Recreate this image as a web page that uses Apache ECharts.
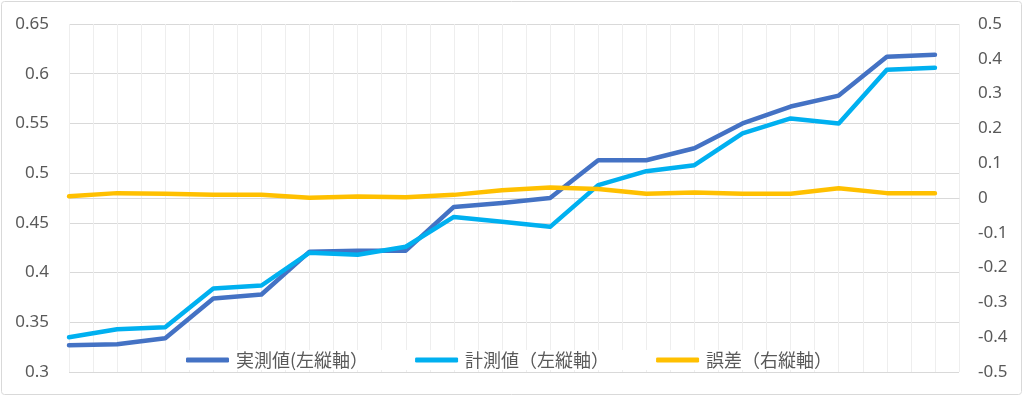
<!DOCTYPE html>
<html>
<head>
<meta charset="utf-8">
<script src="https://cdn.jsdelivr.net/npm/echarts@6/dist/echarts.min.js"></script>
<style>
  html, body { margin: 0; padding: 0; background: #fff; }
  #chart { width: 1024px; height: 397px; }
</style>
</head>
<body>
<div id="chart"></div>
<script>
// x positions of the points on the 0..37 grid
const pointX = [0, 2, 4, 6, 8, 10, 12, 14, 16, 18, 20, 22, 24, 26, 28, 30, 32, 34, 36]
// 実測値 (left axis)
const actual = [0.327, 0.328, 0.334, 0.374, 0.378, 0.421, 0.422, 0.422, 0.466, 0.470, 0.475,
  0.513, 0.513, 0.525, 0.550, 0.567, 0.578, 0.617, 0.619]
// 計測値 (left axis)
const measured = [0.335, 0.343, 0.345, 0.384, 0.387, 0.420, 0.418, 0.426, 0.456, 0.451, 0.446,
  0.488, 0.502, 0.508, 0.540, 0.555, 0.550, 0.604, 0.606]
// 誤差 (right axis)
const errors = [0.005, 0.014, 0.012, 0.009, 0.009, 0.001, 0.004, 0.002, 0.009, 0.022, 0.030,
  0.026, 0.012, 0.016, 0.012, 0.012, 0.028, 0.014, 0.014]

const seriesNames = ['実測値(左縦軸）', '計測値（左縦軸）', '誤差（右縦軸）']
const colors = ['#4472C4', '#00B0F0', '#FFC000']

const labelFont = 'Noto Sans'
const cjkFont = 'Noto Sans CJK JP'

function pairs (values) {
  return pointX.map((x, i) => [x, values[i]])
}

const chart = echarts.init(document.getElementById('chart'))

chart.setOption({
  animation: false,
  color: colors,
  graphic: [
    {
      type: 'rect',
      shape: { x: 1.5, y: 1.5, width: 1020, height: 393, r: 3 },
      style: { fill: 'none', stroke: '#d9d9d9', lineWidth: 1 },
      silent: true
    }
  ],
  grid: {
    left: 69,
    right: 65,
    top: 24,
    bottom: 25
  },
  legend: {
    data: seriesNames,
    left: 180,
    top: 350,
    backgroundColor: '#fff',
    padding: [1, 6, 1, 6],
    icon: 'roundRect',
    itemWidth: 43,
    itemHeight: 5,
    itemGap: 47,
    textStyle: {
      fontFamily: cjkFont,
      fontSize: 18,
      color: '#595959',
      padding: [0, 0, 0, 2]
    }
  },
  xAxis: {
    type: 'value',
    min: 0,
    max: 37,
    interval: 1,
    axisLabel: { show: false },
    axisTick: { show: false },
    axisLine: { show: true, lineStyle: { color: '#d9d9d9', width: 1 } },
    splitLine: { show: true, lineStyle: { color: '#eeeeee', width: 1 } }
  },
  yAxis: [
    {
      type: 'value',
      position: 'left',
      min: 0.3,
      max: 0.65,
      interval: 0.05,
      axisLine: { show: false },
      axisTick: { show: false },
      axisLabel: {
        margin: 20,
        fontFamily: labelFont,
        fontSize: 17,
        color: '#595959'
      },
      splitLine: { show: true, lineStyle: { color: '#d9d9d9', width: 1 } }
    },
    {
      type: 'value',
      position: 'right',
      min: -0.5,
      max: 0.5,
      interval: 0.1,
      axisLine: { show: false },
      axisTick: { show: false },
      axisLabel: {
        margin: 19,
        fontFamily: labelFont,
        fontSize: 17,
        color: '#595959'
      },
      splitLine: { show: false }
    }
  ],
  series: [
    {
      name: seriesNames[0],
      type: 'line',
      yAxisIndex: 0,
      data: pairs(actual),
      symbol: 'none',
      lineStyle: { width: 4.5, color: colors[0], cap: 'round', join: 'round' }
    },
    {
      name: seriesNames[1],
      type: 'line',
      yAxisIndex: 0,
      data: pairs(measured),
      symbol: 'none',
      lineStyle: { width: 4.5, color: colors[1], cap: 'round', join: 'round' }
    },
    {
      name: seriesNames[2],
      type: 'line',
      yAxisIndex: 1,
      data: pairs(errors),
      symbol: 'none',
      lineStyle: { width: 4.5, color: colors[2], cap: 'round', join: 'round' }
    }
  ]
})
</script>
</body>
</html>
